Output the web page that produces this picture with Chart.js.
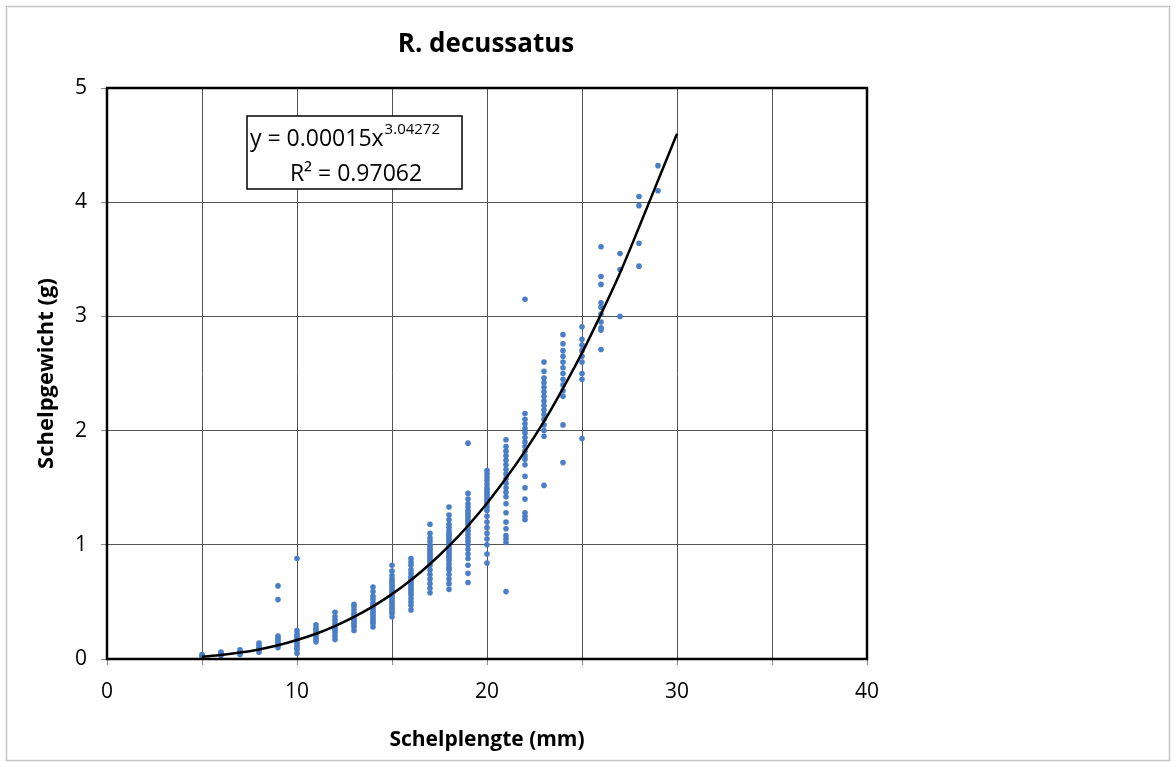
<!DOCTYPE html>
<html>
<head>
<meta charset="utf-8">
<script src="https://cdn.jsdelivr.net/npm/chart.js@4/dist/chart.umd.min.js"></script>
<style>
  html, body { margin: 0; padding: 0; background: #fff; }
  #wrap { width: 1176px; height: 767px; position: relative; }
</style>
</head>
<body>
<div id="wrap"><canvas id="shellChart" width="1176" height="767"></canvas></div>
<script>
// ===================== schelplengte vs schelpgewicht =====================
var chartTitle = "R. decussatus";
var xTitle = "Schelplengte (mm)";
var yTitle = "Schelpgewicht (g)";
var xTicks = [0, 10, 20, 30, 40];
var yTicks = [0, 1, 2, 3, 4, 5];

// schelplengte (mm) per kolom
var lengths = [5, 6, 7, 8, 9, 10, 11, 12, 13, 14, 15, 16, 17, 18, 19, 20, 21, 22, 23, 24, 25, 26, 27, 28, 29];
// schelpgewicht (g) per lengte
var weights = [
  [0.02, 0.03, 0.04],
  [0.03, 0.05, 0.06],
  [0.04, 0.06, 0.08],
  [0.06, 0.08, 0.10, 0.12, 0.14],
  [0.10, 0.12, 0.14, 0.16, 0.18, 0.20, 0.52, 0.64],
  [0.05, 0.08, 0.10, 0.12, 0.14, 0.16, 0.18, 0.20, 0.22, 0.25, 0.88],
  [0.15, 0.17, 0.19, 0.21, 0.23, 0.25, 0.27, 0.30],
  [0.17, 0.20, 0.23, 0.25, 0.27, 0.29, 0.31, 0.34, 0.37, 0.41],
  [0.25, 0.28, 0.30, 0.32, 0.34, 0.36, 0.38, 0.40, 0.43, 0.46, 0.48],
  [0.28, 0.31, 0.33, 0.35, 0.37, 0.39, 0.41, 0.43, 0.45, 0.47, 0.49, 0.52, 0.55, 0.59, 0.63],
  [0.37, 0.40, 0.42, 0.44, 0.46, 0.48, 0.50, 0.52, 0.54, 0.56, 0.58, 0.60, 0.62, 0.64, 0.66, 0.68, 0.70, 0.73, 0.77, 0.82],
  [0.43, 0.47, 0.50, 0.53, 0.56, 0.58, 0.60, 0.62, 0.64, 0.66, 0.68, 0.70, 0.72, 0.75, 0.78, 0.82, 0.85, 0.88],
  [0.58, 0.62, 0.66, 0.70, 0.74, 0.78, 0.82, 0.84, 0.86, 0.88, 0.90, 0.92, 0.94, 0.96, 0.98, 1.00, 1.03, 1.06, 1.10, 1.18],
  [0.61, 0.66, 0.70, 0.74, 0.78, 0.80, 0.83, 0.86, 0.88, 0.90, 0.92, 0.94, 0.96, 0.98, 1.00, 1.02, 1.04, 1.06, 1.08, 1.10, 1.12, 1.15, 1.18, 1.22, 1.26, 1.33],
  [0.67, 0.75, 0.82, 0.88, 0.92, 0.96, 1.00, 1.03, 1.06, 1.09, 1.12, 1.15, 1.18, 1.20, 1.22, 1.24, 1.26, 1.28, 1.30, 1.33, 1.36, 1.40, 1.45, 1.89],
  [0.84, 0.92, 1.00, 1.05, 1.10, 1.15, 1.20, 1.25, 1.30, 1.33, 1.36, 1.38, 1.40, 1.42, 1.44, 1.46, 1.48, 1.50, 1.53, 1.56, 1.59, 1.62, 1.65],
  [0.59, 1.02, 1.05, 1.08, 1.14, 1.20, 1.28, 1.36, 1.42, 1.46, 1.50, 1.54, 1.58, 1.62, 1.66, 1.70, 1.74, 1.78, 1.82, 1.86, 1.92],
  [1.22, 1.25, 1.28, 1.40, 1.50, 1.60, 1.70, 1.75, 1.78, 1.82, 1.86, 1.90, 1.94, 1.98, 2.02, 2.06, 2.10, 2.15, 3.15],
  [1.52, 1.95, 2.00, 2.05, 2.10, 2.14, 2.18, 2.22, 2.26, 2.30, 2.34, 2.38, 2.42, 2.46, 2.52, 2.60],
  [1.72, 2.05, 2.30, 2.35, 2.40, 2.45, 2.50, 2.55, 2.60, 2.65, 2.70, 2.76, 2.84],
  [1.93, 2.45, 2.50, 2.60, 2.65, 2.70, 2.75, 2.80, 2.91],
  [2.71, 2.88, 2.90, 2.95, 3.02, 3.08, 3.12, 3.28, 3.35, 3.61],
  [3.00, 3.41, 3.55],
  [3.44, 3.64, 3.97, 4.05],
  [4.10, 4.32]
];

var trendX = [5, 6, 7, 8, 9, 10, 11, 12, 13, 14, 15, 16, 17, 18, 19, 20, 21, 22, 23, 24, 25, 26, 27, 28, 29, 30];
var trendY = [0.02, 0.035, 0.056, 0.084, 0.12, 0.166, 0.221, 0.288, 0.368, 0.461, 0.568, 0.692, 0.832, 0.99, 1.167, 1.364, 1.582, 1.82, 2.08, 2.37, 2.68, 3.02, 3.38, 3.78, 4.19, 4.6];
var equationText = ["y = 0.00015x", "3.04272", "R\u00b2 = 0.97062"];

var points = [];
lengths.forEach(function (len, i) {
  weights[i].forEach(function (w) { points.push({ x: len, y: w }); });
});
var trend = trendX.map(function (x, i) { return { x: x, y: trendY[i] }; });

var FONT = "'Open Sans', 'Liberation Sans', sans-serif";

// titel, rand en vergelijking
var extras = {
  id: "extras",
  beforeDraw: function (chart) {
    var c = chart.ctx;
    c.save();
    c.fillStyle = "#fff";
    c.fillRect(0, 0, chart.width, chart.height);
    c.strokeStyle = "#c4c4c4";
    c.lineWidth = 1.5;
    c.strokeRect(6.5, 6.5, 1163, 754);
    c.restore();
  },
  afterDraw: function (chart) {
    var c = chart.ctx;
    var a = chart.chartArea;
    c.save();
    // plot rand
    c.strokeStyle = "#000";
    c.lineWidth = 2.5;
    c.strokeRect(a.left, a.top, a.right - a.left, a.bottom - a.top);
    // titel
    c.fillStyle = "#000";
    c.font = "bold 26px " + FONT;
    c.textAlign = "center";
    c.textBaseline = "middle";
    c.fillText(chartTitle, 486, 45);
    // vergelijking
    c.fillStyle = "#fff";
    c.fillRect(247, 116, 215, 73);
    c.strokeStyle = "#000";
    c.lineWidth = 1.5;
    c.strokeRect(247, 116, 215, 73);
    c.fillStyle = "#000";
    c.textAlign = "left";
    c.textBaseline = "alphabetic";
    c.font = "23px " + FONT;
    c.fillText(equationText[0], 250, 146);
    var w = c.measureText(equationText[0]).width;
    c.font = "15px " + FONT;
    c.fillText(equationText[1], 250 + w + 1, 134);
    c.font = "23px " + FONT;
    c.textAlign = "center";
    c.fillText(equationText[2], 356, 181);
    c.restore();
  }
};

var ctx = document.getElementById("shellChart").getContext("2d");
var shellChart = new Chart(ctx, {
  type: "scatter",
  data: {
    datasets: [
      {
        label: "metingen",
        data: points,
        backgroundColor: "#4a7ec6",
        borderColor: "#4a7ec6",
        pointStyle: "circle",
        pointRadius: 2.8,
        pointBorderWidth: 0,
        order: 2
      },
      {
        label: "trend",
        type: "line",
        data: trend,
        borderColor: "#000",
        borderWidth: 2.5,
        pointRadius: 0,
        cubicInterpolationMode: "monotone",
        fill: false,
        order: 1
      }
    ]
  },
  options: {
    responsive: false,
    animation: false,
    devicePixelRatio: 1,
    layout: { padding: { left: 30, right: 309, top: 88, bottom: 0 } },
    plugins: {
      legend: { display: false },
      tooltip: { enabled: false }
    },
    scales: {
      x: {
        type: "linear",
        min: 0,
        max: 40,
        ticks: {
          stepSize: 5,
          autoSkip: false,
          color: "#000",
          font: { family: FONT, size: 21 },
          padding: 14,
          maxRotation: 0,
          callback: function (v) { return xTicks.indexOf(v) >= 0 ? String(v) : ""; }
        },
        grid: { color: "#555", lineWidth: 1, tickLength: 6, tickColor: "#888" },
        border: { display: false },
        title: {
          display: true,
          text: xTitle,
          color: "#000",
          font: { family: FONT, size: 21, weight: "bold" },
          padding: { top: 8, bottom: 14 }
        },
        afterFit: function (s) { s.height = 108; }
      },
      y: {
        type: "linear",
        min: 0,
        max: 5,
        ticks: {
          stepSize: 1,
          color: "#000",
          font: { family: FONT, size: 21 },
          padding: 14,
          callback: function (v) { return yTicks.indexOf(v) >= 0 ? String(v) : ""; }
        },
        grid: { color: "#555", lineWidth: 1, tickLength: 6, tickColor: "#888" },
        border: { display: false },
        title: {
          display: true,
          text: yTitle,
          color: "#000",
          font: { family: FONT, size: 22, weight: "bold" },
          padding: { bottom: 2 }
        },
        afterFit: function (s) { s.width = 77; }
      }
    }
  },
  plugins: [extras]
});
</script>
</body>
</html>
